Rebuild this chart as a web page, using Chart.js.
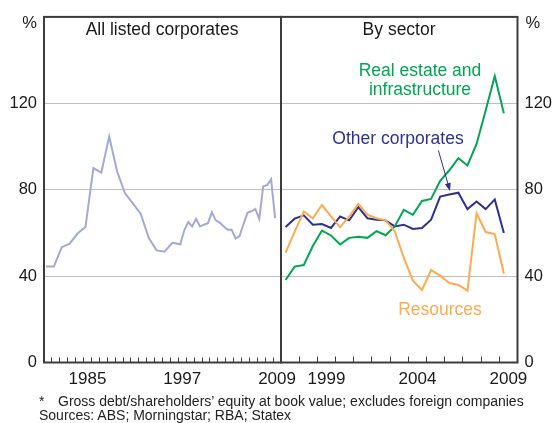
<!DOCTYPE html>
<html><head><meta charset="utf-8">
<script src="https://cdn.jsdelivr.net/npm/chart.js@4"></script>
<style>
html,body{margin:0;padding:0;background:#fff;}
#wrap{position:relative;width:555px;height:423px;overflow:hidden;font-family:"Liberation Sans",Arial,sans-serif;}
canvas{position:absolute;left:0;top:0;}
#right{pointer-events:none;}
.note{position:absolute;font-size:14px;color:#222;white-space:nowrap;line-height:14px;}
</style></head><body>
<div id="wrap">
<canvas id="left" width="555" height="423"></canvas>
<canvas id="right" width="555" height="423"></canvas>
<div class="note" style="left:39px;top:394px;">*</div>
<div class="note" style="left:58px;top:394px;">Gross debt/shareholders’ equity at book value; excludes foreign companies</div>
<div class="note" style="left:39px;top:408px;">Sources: ABS; Morningstar; RBA; Statex</div>
</div>
<script>
// ---- data ----
const allYears = [1980.25,1981.25,1982.25,1983.25,1984.25,1985.25,1986.25,1987.25,1988.25,1989.25,
  1990.25,1991.25,1992.25,1993.25,1994.25,1995.25,1996.25,
  1997.25,1997.75,1998.25,1998.75,1999.25,1999.75,2000.25,2000.75,2001.25,2001.75,2002.25,2002.75,
  2003.25,2003.75,2004.25,2004.75,2005.25,2005.75,2006.25,2006.75,2007.25,2007.75,2008.25,2008.75,2009.25];
const allListed = [44.4,44.4,53.4,55.0,59.7,62.7,90.0,87.9,104.6,88.5,
  78.3,73.7,68.8,57.7,51.9,51.3,55.4,
  54.7,61.1,65.0,63.0,66.5,63.0,63.8,64.5,69.5,65.8,64.8,63.0,
  61.5,61.5,57.4,58.5,64.0,69.3,70.0,71.1,66.5,81.6,82.1,84.8,66.8];

const sectorYears = [1997.25,1997.75,1998.25,1998.75,1999.25,1999.75,2000.25,2000.75,2001.25,2001.75,
  2002.25,2002.75,2003.25,2003.75,2004.25,2004.75,2005.25,2005.75,2006.25,2006.75,
  2007.25,2007.75,2008.25,2008.75,2009.25];
const realEstate = [38.2,44.4,45.1,53.9,61.1,58.8,54.7,57.7,58.2,57.7,
  60.8,58.9,63.0,70.7,68.4,74.8,75.7,84.1,89.0,94.6,
  91.2,101.2,116.7,132.6,115.4];
const otherCorporates = [62.7,66.6,68.1,63.8,64.1,62.3,67.6,65.8,71.9,66.8,
  66.1,65.8,63.0,63.8,61.8,62.3,66.1,76.8,77.8,78.6,
  71.0,74.5,71.0,75.5,60.0];
const resources = [50.8,60.5,69.9,66.8,72.9,67.6,62.6,67.6,73.4,68.4,
  66.8,65.8,60.8,48.5,37.9,33.6,42.8,40.2,36.8,35.9,
  33.3,69.1,60.4,59.5,41.2];

const yTickLabels = [0, 40, 80, 120];
const leftYearLabels = [1985, 1997, 2009];
const rightYearLabels = [1999, 2004, 2009];

// ---- styling ----
const FONT = "'Liberation Sans', Arial, sans-serif";
Chart.defaults.font.family = FONT;
Chart.defaults.color = '#1a1a1a';
const FRAME = '#3c3c3c';
const C_ALL = '#a3a8d6', C_OTHER = '#2e3192', C_RE = '#00a651', C_RES = '#fbab50';

const pts = (xs, ys) => xs.map((x, i) => ({x: x, y: ys[i]}));

function yAxis(position, width) {
  return {
    type: 'linear', position: position, min: 0, max: 160,
    ticks: {stepSize: 40, padding: 7, font: {size: 16.5}, color: '#1a1a1a',
      callback: v => yTickLabels.includes(v) ? String(v) : ''},
    grid: {drawTicks: false, lineWidth: 1,
      color: ctx => (ctx.tick && ctx.tick.value > 0 && ctx.tick.value < 160) ? '#bfbfbf' : 'rgba(0,0,0,0)'},
    border: {display: false},
    afterFit: s => { s.width = width; }
  };
}
function xAxis(min, max, labels, labelOffset, tickLen) {
  return {
    type: 'linear', position: 'bottom', min: min, max: max,
    ticks: {stepSize: 1, autoSkip: false, maxRotation: 0, minRotation: 0,
      padding: 6.3 + tickLen, labelOffset: labelOffset, font: {size: 17}, color: '#1a1a1a',
      callback: v => labels.includes(v) ? String(v) : ''},
    grid: {drawOnChartArea: false, drawTicks: true, tickLength: -tickLen, color: FRAME, lineWidth: 1},
    border: {display: false},
    afterFit: s => { s.height = 60.5; }
  };
}
const framePlugin = {
  id: 'frame',
  afterDraw(chart) {
    const a = chart.chartArea, ctx = chart.ctx;
    ctx.save();
    ctx.strokeStyle = FRAME; ctx.lineWidth = 2;
    ctx.strokeRect(a.left, a.top, a.right - a.left, a.bottom - a.top);
    ctx.restore();
  }
};
function textPlugin(items, pctSide) {
  return {
    id: 'texts',
    afterDraw(chart) {
      const ctx = chart.ctx, xs = chart.scales.x, ys = chart.scales.y, a = chart.chartArea;
      ctx.save();
      ctx.textBaseline = 'middle';
      items.forEach(it => {
        ctx.font = '17.5px ' + FONT;
        ctx.fillStyle = it.color;
        ctx.textAlign = 'center';
        ctx.fillText(it.text, xs.getPixelForValue(it.x), ys.getPixelForValue(it.y));
      });
      ctx.font = '16.5px ' + FONT;
      ctx.fillStyle = '#1a1a1a';
      if (pctSide === 'left') { ctx.textAlign = 'right'; ctx.fillText('%', a.left - 7, a.top + 7); }
      else { ctx.textAlign = 'left'; ctx.fillText('%', a.right + 8, a.top + 7); }
      ctx.restore();
    }
  };
}
const arrowPlugin = {
  id: 'arrow',
  afterDraw(chart) {
    const xs = chart.scales.x, ys = chart.scales.y, ctx = chart.ctx;
    const x1 = xs.getPixelForValue(2005.65), y1 = ys.getPixelForValue(98.2);
    const x2 = xs.getPixelForValue(2006.29), y2 = ys.getPixelForValue(79.4);
    const ang = Math.atan2(y2 - y1, x2 - x1);
    ctx.save();
    ctx.strokeStyle = C_OTHER; ctx.fillStyle = C_OTHER; ctx.lineWidth = 1;
    ctx.beginPath(); ctx.moveTo(x1, y1); ctx.lineTo(x2 - 6 * Math.cos(ang), y2 - 6 * Math.sin(ang)); ctx.stroke();
    ctx.beginPath();
    ctx.moveTo(x2, y2);
    ctx.lineTo(x2 - 8 * Math.cos(ang) + 3 * Math.sin(ang), y2 - 8 * Math.sin(ang) - 3 * Math.cos(ang));
    ctx.lineTo(x2 - 8 * Math.cos(ang) - 3 * Math.sin(ang), y2 - 8 * Math.sin(ang) + 3 * Math.cos(ang));
    ctx.closePath(); ctx.fill();
    ctx.restore();
  }
};
const lineDs = (label, data, color) => ({label: label, data: data, borderColor: color, borderWidth: 2,
  pointRadius: 0, tension: 0, fill: false});

new Chart(document.getElementById('left'), {
  type: 'line',
  data: {datasets: [lineDs('All listed corporates', pts(allYears, allListed), C_ALL)]},
  options: {
    responsive: false, animation: false, events: [],
    layout: {padding: {left: 0, right: 274, top: 13.5, bottom: 0}},
    plugins: {legend: {display: false}, tooltip: {enabled: false}},
    scales: {x: xAxis(1980, 2010, leftYearLabels, 3.95, 5), y: yAxis('left', 44)}
  },
  plugins: [framePlugin, textPlugin([{text: 'All listed corporates', x: 1994.94, y: 153.8, color: '#1a1a1a'}], 'left')]
});

new Chart(document.getElementById('right'), {
  type: 'line',
  data: {datasets: [
    lineDs('Resources', pts(sectorYears, resources), C_RES),
    lineDs('Real estate and infrastructure', pts(sectorYears, realEstate), C_RE),
    lineDs('Other corporates', pts(sectorYears, otherCorporates), C_OTHER)
  ]},
  options: {
    responsive: false, animation: false, events: [],
    layout: {padding: {left: 281, right: 0, top: 13.5, bottom: 0}},
    plugins: {legend: {display: false}, tooltip: {enabled: false}},
    scales: {x: xAxis(1997, 2010, rightYearLabels, 9.1, 6), y: yAxis('right', 37.5)}
  },
  plugins: [framePlugin, arrowPlugin, textPlugin([
    {text: 'By sector', x: 2003.49, y: 153.8, color: '#1a1a1a'},
    {text: 'Real estate and', x: 2004.64, y: 135.0, color: C_RE},
    {text: 'infrastructure', x: 2004.64, y: 126.3, color: C_RE},
    {text: 'Other corporates', x: 2003.43, y: 103.6, color: C_OTHER},
    {text: 'Resources', x: 2005.74, y: 24.1, color: C_RES}
  ], 'right')]
});
</script>
</body></html>
